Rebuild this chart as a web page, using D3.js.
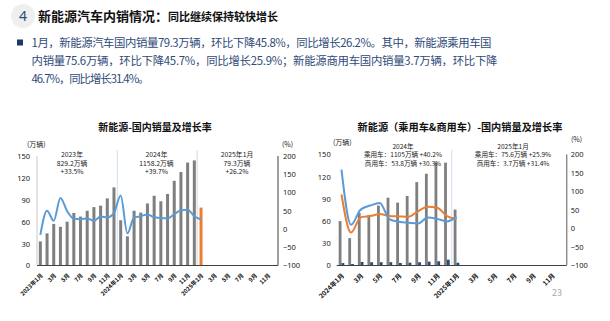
<!DOCTYPE html>
<html><head><meta charset="utf-8">
<script src="https://cdn.jsdelivr.net/npm/d3@7/dist/d3.min.js"></script>
<style>
html,body{margin:0;padding:0;background:#fff;}
svg{display:block;font-family:"Noto Sans CJK SC","Noto Sans",sans-serif;}
</style></head>
<body>
<svg id="c" width="610" height="321"></svg>
<script>
// ---------------- DATA ----------------
const headerNum = "4";
const headerTitleA = "新能源汽车内销情况：";
const headerTitleB = "同比继续保持较快增长";
const bulletLines = [
  "1月，新能源汽车国内销量79.3万辆，环比下降45.8%，同比增长26.2%。其中，新能源乘用车国",
  "内销量75.6万辆，环比下降45.7%，同比增长25.9%；新能源商用车国内销量3.7万辆，环比下降",
  "46.7%，同比增长31.4%。"
];
const bulletWidths = [460, 466, 118];

// Left chart
const leftTitle = "新能源-国内销量及增长率";
const leftCats = ["2023-01","2023-02","2023-03","2023-04","2023-05","2023-06","2023-07","2023-08","2023-09","2023-10","2023-11","2023-12",
  "2024-01","2024-02","2024-03","2024-04","2024-05","2024-06","2024-07","2024-08","2024-09","2024-10","2024-11","2024-12",
  "2025-01","2025-02","2025-03","2025-04","2025-05","2025-06","2025-07","2025-08","2025-09","2025-10","2025-11","2025-12"];
const leftTickCats = ["2023-01","2023-03","2023-05","2023-07","2023-09","2023-11","2024-01","2024-03","2024-05","2024-07","2024-09","2024-11",
  "2025-01","2025-03","2025-05","2025-07","2025-09","2025-11"];
const leftTickLabels = ["2023年1月","3月","5月","7月","9月","11月","2024年1月","3月","5月","7月","9月","11月",
  "2025年1月","3月","5月","7月","9月","11月"];
const leftSales = [33,44,57,53,60,72,67,75,80,82,92,107,
  62,40,75,72.5,85,95.5,88,98,116,128,141,144];          // 万辆, grey
const leftCurCats = ["2025-01"];
const leftCurSales = [79.3];                               // 万辆, orange
const leftGrowth = [-16,50,22.5,85,49,28,27,29,22.5,34,31.5,44,
  92,-12,31.5,35,40,32,30,29,40.5,51,53,35,26.2];          // %
const leftYTicks = [0,30,60,90,120,150];
const leftY2Ticks = [-100,-50,0,50,100,150,200];
const leftNotes = [
  {x:72, lines:["2023年","829.2万辆","+33.5%"]},
  {x:156.5, lines:["2024年","1158.2万辆","+39.7%"]},
  {x:237, lines:["2025年1月","79.3万辆","+26.2%"]}
];

// Right chart
const rightTitle = "新能源（乘用车&商用车）-国内销量及增长率";
const rightCats = ["2024-01","2024-02","2024-03","2024-04","2024-05","2024-06","2024-07","2024-08","2024-09","2024-10","2024-11","2024-12",
  "2025-01","2025-02","2025-03","2025-04","2025-05","2025-06","2025-07","2025-08","2025-09","2025-10","2025-11","2025-12"];
const rightTickCats = ["2024-01","2024-03","2024-05","2024-07","2024-09","2024-11","2025-01","2025-03","2025-05","2025-07","2025-09","2025-11"];
const rightTickLabels = ["2024年1月","3月","5月","7月","9月","11月","2025年1月","3月","5月","7月","9月","11月"];
const passengerSales = [60,37,71,68,81,91.6,85,94,112.7,124,139,139,75.6];
const commercialSales = [3.3,2.0,4.8,4.4,4.4,4.5,3.4,3.8,4.4,5.2,5.7,7.9,3.7];
const passengerGrowth = [92,-11,30,33.5,39,33.5,32.6,31.7,47,58.7,56,33.5,25.9];
const commercialGrowth = [159,10,51,62,69,25,18,15.5,13.7,30,26,19,31.4];
const rightYTicks = [0,30,60,90,120,150];
const rightY2Ticks = [-100,-50,0,50,100,150,200];
const rightNotes = [
  {x:403, lines:["2024年","乘用车：1105万辆  +40.2%","商用车：53.8万辆  +30.3%"]},
  {x:513, lines:["2025年1月","乘用车：75.6万辆  +25.9%","商用车：3.7万辆  +31.4%"]}
];
const pageNum = "23";

// ---------------- DRAW ----------------
const svg = d3.select("#c");
const C = {grey:"#7f7f7f", orange:"#ed7d31", blue:"#5b9bd5", navy:"#1f4e79", text:"#2f4a78"};

// header
const hg = svg.append("g");
hg.append("circle").attr("cx",23).attr("cy",16).attr("r",12).attr("fill","#efefef");
hg.append("text").attr("x",23).attr("y",21).attr("text-anchor","middle")
  .attr("font-size",14).attr("fill","#2f4a78").attr("font-family","Noto Sans, sans-serif").text(headerNum);
const ht = hg.append("text").attr("x",38).attr("y",21).attr("font-weight","bold").attr("fill","#111");
ht.append("tspan").attr("font-size",13).text(headerTitleA);
ht.append("tspan").attr("font-size",11).text(headerTitleB);

svg.append("rect").attr("x",17).attr("y",39.5).attr("width",6).attr("height",6).attr("fill","#1f3864");
svg.selectAll("text.bl").data(bulletLines).join("text").attr("class","bl")
  .attr("x",31.5).attr("y",(d,i)=>46.5+i*18.4).attr("font-size",11.4).attr("fill",C.text)
  .attr("textLength",(d,i)=>bulletWidths[i]).attr("lengthAdjust","spacing").text(d=>d);

function xLabels(g, x, cats, labels, y0, fs){
  g.selectAll("text.xl").data(cats).join("text").attr("class","xl")
    .attr("transform",(d)=>`translate(${x(d)+x.bandwidth()/2+1.5},${y0}) rotate(-45)`)
    .attr("text-anchor","end").attr("font-size",fs).attr("font-weight","bold").attr("fill","#111")
    .attr("dy","0.35em").text((d,i)=>labels[i]);
}
function styleAxis(g, fs){
  g.select(".domain").remove();
  g.selectAll("text").attr("font-size",fs).attr("fill","#222").attr("font-family","Noto Sans, sans-serif");
}
function note(g, n, y0, fs, lh){
  const t = g.append("text").attr("text-anchor","middle").attr("font-size",fs).attr("fill","#222");
  n.lines.forEach((s,i)=>{
    t.append("tspan").attr("x",n.x).attr("y",y0+i*lh).text(s);
  });
}

// ---- left chart ----
{
  const x0=37, x1=278, yT=156, yB=265.5;
  const g = svg.append("g");
  const x = d3.scaleBand().domain(leftCats).range([x0,x1]);
  const y = d3.scaleLinear().domain([0,150]).range([yB,yT]);
  const y2 = d3.scaleLinear().domain([-100,200]).range([yB,yT]);
  const bw = 3;
  g.append("text").attr("x",155).attr("y",131).attr("text-anchor","middle").attr("font-size",10)
    .attr("font-weight","bold").attr("fill","#111").text(leftTitle);
  g.append("text").attr("x",27).attr("y",146.5).attr("font-size",7).attr("fill","#222").text("(万辆)");
  g.append("text").attr("x",282).attr("y",146.5).attr("font-size",7).attr("fill","#222").text("(%)");
  g.append("line").attr("x1",x0).attr("x2",x0).attr("y1",yT).attr("y2",yB).attr("stroke","#c8c8c8");
  g.append("line").attr("x1",x("2024-01")).attr("x2",x("2024-01")).attr("y1",150).attr("y2",yB).attr("stroke","#c5d8ee").attr("stroke-width",0.8);
  g.append("line").attr("x1",x("2025-01")-0.5).attr("x2",x("2025-01")-0.5).attr("y1",150).attr("y2",yB).attr("stroke","#d9dde3").attr("stroke-width",1.2);
  g.selectAll("rect.s").data(leftSales).join("rect").attr("class","s")
    .attr("x",(d,i)=>x(leftCats[i])+x.bandwidth()/2-bw/2).attr("width",bw)
    .attr("y",d=>y(d)).attr("height",d=>y(0)-y(d)).attr("fill",C.grey);
  g.selectAll("rect.o").data(leftCurSales).join("rect").attr("class","o")
    .attr("x",(d,i)=>x(leftCurCats[i])+x.bandwidth()/2-bw/2).attr("width",bw)
    .attr("y",d=>y(d)).attr("height",d=>y(0)-y(d)).attr("fill",C.orange);
  g.append("path").datum(leftGrowth).attr("fill","none").attr("stroke",C.blue).attr("stroke-width",2)
    .attr("stroke-linejoin","round")
    .attr("d",d3.line().x((d,i)=>x(leftCats[i])+x.bandwidth()/2).y(d=>y2(d)).curve(d3.curveMonotoneX));
  g.append("line").attr("x1",x0).attr("x2",x1).attr("y1",yB).attr("y2",yB).attr("stroke","#404040");
  g.append("line").attr("x1",x1).attr("x2",x1).attr("y1",yT).attr("y2",yB).attr("stroke","#404040");
  const al = g.append("g").attr("transform",`translate(${x0},0)`)
    .call(d3.axisLeft(y).tickValues(leftYTicks).tickSize(0).tickPadding(7));
  styleAxis(al,7.5);
  const ar = g.append("g").attr("transform",`translate(${x1},0)`)
    .call(d3.axisRight(y2).tickValues(leftY2Ticks).tickSize(0).tickPadding(5));
  styleAxis(ar,7.5);
  const xl = g.append("g");
  xLabels(xl, x, leftTickCats, leftTickLabels, yB+9, 5.8);
  leftNotes.forEach(n=>note(g, n, 157, 6.8, 8.7));
}

// ---- right chart ----
{
  const x0=336.7, x1=566.7, yT=154.5, yB=265.5;
  const g = svg.append("g");
  const x = d3.scaleBand().domain(rightCats).range([x0,x1]);
  const y = d3.scaleLinear().domain([0,150]).range([yB,yT]);
  const y2 = d3.scaleLinear().domain([-100,200]).range([yB,yT]);
  const bw = 2.8;
  g.append("text").attr("x",460).attr("y",131).attr("text-anchor","middle").attr("font-size",10.2)
    .attr("font-weight","bold").attr("fill","#111").text(rightTitle);
  g.append("text").attr("x",333).attr("y",144.5).attr("font-size",7).attr("fill","#222").text("(万辆)");
  g.append("text").attr("x",571).attr("y",142).attr("font-size",7).attr("fill","#222").text("(%)");
  g.append("line").attr("x1",x("2025-01")).attr("x2",x("2025-01")).attr("y1",150).attr("y2",yB).attr("stroke","#c5d8ee").attr("stroke-width",0.8);
  g.selectAll("rect.p").data(passengerSales).join("rect").attr("class","p")
    .attr("x",(d,i)=>x(rightCats[i])+x.bandwidth()/2-bw).attr("width",bw)
    .attr("y",d=>y(d)).attr("height",d=>y(0)-y(d)).attr("fill",C.grey);
  g.selectAll("rect.c").data(commercialSales).join("rect").attr("class","c")
    .attr("x",(d,i)=>x(rightCats[i])+x.bandwidth()/2).attr("width",bw)
    .attr("y",d=>y(d)).attr("height",d=>y(0)-y(d)).attr("fill",C.navy);
  const ln = d3.line().x((d,i)=>x(rightCats[i])+x.bandwidth()/2).y(d=>y2(d)).curve(d3.curveMonotoneX);
  g.append("path").datum(passengerGrowth).attr("fill","none").attr("stroke",C.orange).attr("stroke-width",2).attr("d",ln);
  g.append("path").datum(commercialGrowth).attr("fill","none").attr("stroke",C.blue).attr("stroke-width",2).attr("d",ln);
  g.append("line").attr("x1",x0).attr("x2",x1).attr("y1",yB).attr("y2",yB).attr("stroke","#404040");
  g.append("line").attr("x1",x1).attr("x2",x1).attr("y1",yT).attr("y2",yB).attr("stroke","#8a8a8a").attr("stroke-width",1.4);
  const al = g.append("g").attr("transform",`translate(${x0},0)`)
    .call(d3.axisLeft(y).tickValues(rightYTicks).tickSize(0).tickPadding(6));
  styleAxis(al,7.5);
  const ar = g.append("g").attr("transform",`translate(${x1},0)`)
    .call(d3.axisRight(y2).tickValues(rightY2Ticks).tickSize(0).tickPadding(4));
  styleAxis(ar,7.5);
  const xl = g.append("g");
  xLabels(xl, x, rightTickCats, rightTickLabels, yB+9, 6.5);
  rightNotes.forEach(n=>note(g, n, 148.6, 6.6, 8.5));
  g.append("text").attr("x",557).attr("y",296).attr("text-anchor","middle").attr("font-size",9).attr("fill","#aaa").text(pageNum);
}
</script>
</body></html>
